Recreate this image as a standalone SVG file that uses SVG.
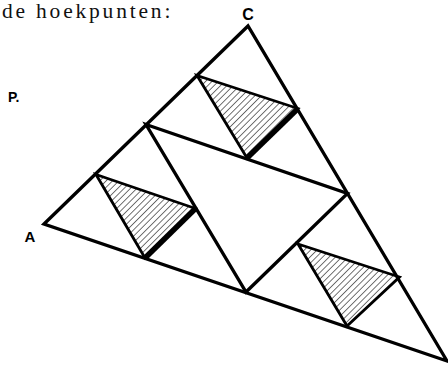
<svg xmlns="http://www.w3.org/2000/svg" width="448" height="390" viewBox="0 0 448 390">
<style>
.ln{fill:none;stroke:#000;stroke-width:3.3;stroke-linejoin:miter;stroke-linecap:round}
.hat{fill:url(#hatch);stroke:#000;stroke-width:2.8;stroke-linejoin:miter}
.thick{stroke:#000;stroke-width:5.5;stroke-linecap:butt}
.lbl{font-family:"Liberation Sans",Arial,sans-serif;font-weight:bold;fill:#000}
.head{font-family:"Liberation Serif","Times New Roman",serif;font-size:21.5px;letter-spacing:2.8px;fill:#111}
</style>
<defs>
<pattern id="hatch" patternUnits="userSpaceOnUse" width="4.5" height="4.5" patternTransform="rotate(45)">
<line x1="0" y1="0" x2="0" y2="4.5" stroke="#000" stroke-width="1.1"/>
</pattern>
</defs>
<rect width="448" height="390" fill="#fff"/>
<text class="head" x="2" y="18">de hoekpunten:</text>
<g id="outer">
<polygon class="ln" points="44,224 248,26 447,361"/>
</g>
<g id="medial">
<polygon class="ln" points="146,124.5 347.5,193.5 246,292"/>
</g>
<g id="hatch-C">
<polygon class="hat" points="197,75.5 298,108.5 247,158"/>
<line class="thick" x1="247" y1="158" x2="298" y2="108.5"/>
</g>
<g id="hatch-A">
<polygon class="hat" points="96,174.5 195.5,208.5 145,258"/>
<line class="thick" x1="145" y1="258" x2="195.5" y2="208.5"/>
</g>
<g id="hatch-B">
<polygon class="hat" points="298,244 399.5,277 347,326"/>
</g>
<g id="labels">
<text class="lbl" x="248" y="20" font-size="16" text-anchor="middle">C</text>
<text class="lbl" x="8" y="102" font-size="14">P.</text>
<text class="lbl" x="30" y="242" font-size="15" text-anchor="middle">A</text>
</g>
</svg>
